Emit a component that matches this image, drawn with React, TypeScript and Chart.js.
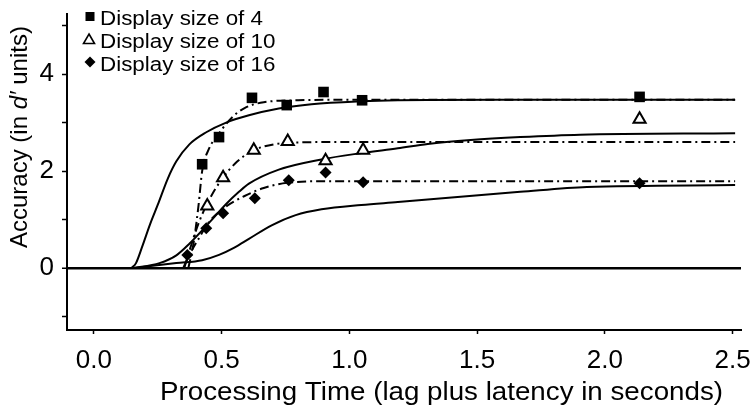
import React, { useEffect, useRef } from 'react';
import { Chart, registerables } from 'chart.js';

Chart.register(...registerables);

// ---------- tick / label data ----------
const X_TICKS = [0, 0.5, 1, 1.5, 2, 2.5];
const Y_TICKS = [-1, 0, 1, 2, 3, 4, 5];
const Y_LABELED = [0, 2, 4];
const LEGEND_LABELS = ['Display size of 4', 'Display size of 10', 'Display size of 16'];
const X_TITLE = 'Processing Time (lag plus latency in seconds)';
const Y_TITLE_PARTS = ['Accuracy (in ', 'd\u2032', ' units)'];

// ---------- observed data points ----------
const SIZE4_T = [0.424, 0.49, 0.619, 0.755, 0.899, 1.05, 2.136];
const SIZE4_ACC = [2.14, 2.7, 3.51, 3.36, 3.63, 3.46, 3.53];
const SIZE10_T = [0.444, 0.506, 0.626, 0.759, 0.907, 1.054, 2.136];
const SIZE10_ACC = [1.28, 1.86, 2.43, 2.61, 2.21, 2.43, 3.07];
const SIZE16_T = [0.366, 0.44, 0.506, 0.63, 0.763, 0.907, 1.054, 2.136];
const SIZE16_ACC = [0.27, 0.82, 1.13, 1.44, 1.81, 1.97, 1.77, 1.75];

// ---------- solid fitted curves ----------
const FIT_A_T = [0.148, 0.165, 0.19, 0.22, 0.25, 0.29, 0.323, 0.374, 0.44, 0.518, 0.607, 0.724, 0.852, 1.047, 1.19, 1.58, 2.51];
const FIT_A_Y = [0, 0.1, 0.45, 0.9, 1.3, 1.85, 2.2, 2.55, 2.8, 3.0, 3.15, 3.29, 3.38, 3.44, 3.46, 3.47, 3.47];
const FIT_B_T = [0.152, 0.257, 0.323, 0.374, 0.451, 0.518, 0.568, 0.607, 0.724, 0.891, 1.047, 1.19, 1.307, 1.475, 1.669, 1.903, 2.51];
const FIT_B_Y = [0, 0.1, 0.26, 0.5, 0.93, 1.32, 1.57, 1.74, 2.03, 2.24, 2.37, 2.47, 2.56, 2.64, 2.7, 2.75, 2.78];
const FIT_C_T = [0.16, 0.323, 0.424, 0.49, 0.55, 0.607, 0.696, 0.79, 0.891, 1.047, 1.19, 1.412, 1.669, 1.93, 2.51];
const FIT_C_Y = [0, 0.1, 0.16, 0.27, 0.42, 0.6, 0.88, 1.09, 1.21, 1.3, 1.36, 1.46, 1.57, 1.67, 1.71];

// ---------- dash-dot fitted curves ----------
const DASH_A_T = [0.37, 0.39, 0.41, 0.424, 0.45, 0.49, 0.54, 0.59, 0.665, 0.8, 1.0, 2.51];
const DASH_A_Y = [0, 0.5, 1.3, 2.0, 2.45, 2.78, 3.1, 3.3, 3.42, 3.46, 3.47, 3.47];
const DASH_B_T = [0.354, 0.381, 0.412, 0.451, 0.498, 0.56, 0.626, 0.704, 0.8, 1.0, 2.51];
const DASH_B_Y = [0, 0.47, 0.95, 1.4, 1.81, 2.19, 2.43, 2.55, 2.59, 2.6, 2.6];
const DASH_C_T = [0.35, 0.374, 0.412, 0.451, 0.51, 0.588, 0.665, 0.763, 0.918, 2.51];
const DASH_C_Y = [0, 0.27, 0.62, 0.95, 1.24, 1.48, 1.65, 1.76, 1.79, 1.79];

const FONT = '"Liberation Sans", Arial, Helvetica, sans-serif';
Chart.defaults.font.family = FONT;

const pts = (xs: number[], ys: number[]) => xs.map((x, i) => ({ x, y: ys[i] }));

const solid = (xs: number[], ys: number[]) => ({
  data: pts(xs, ys),
  borderColor: '#000',
  borderWidth: 2,
  pointRadius: 0,
  fill: false,
  cubicInterpolationMode: 'monotone' as const,
});
const dashDot = (xs: number[], ys: number[]) => ({
  ...solid(xs, ys),
  borderDash: [9, 4, 2, 4],
});

const textPlugin = {
  id: 'refText',
  afterDraw(chart: any) {
    const ctx: CanvasRenderingContext2D = chart.ctx;
    ctx.save();
    ctx.fillStyle = '#000';
    ctx.strokeStyle = '#000';

    // x title
    ctx.font = `26px ${FONT}`;
    ctx.textAlign = 'left';
    ctx.textBaseline = 'alphabetic';
    const xw = ctx.measureText(X_TITLE).width;
    ctx.save();
    ctx.translate(160, 400);
    ctx.scale(563 / xw, 1);
    ctx.fillText(X_TITLE, 0, 0);
    ctx.restore();

    // y title (rotated, italic d')
    ctx.save();
    ctx.translate(27, 248);
    ctx.rotate(-Math.PI / 2);
    let off = 0;
    Y_TITLE_PARTS.forEach((p, i) => {
      ctx.font = i === 1 ? `italic 24px ${FONT}` : `24px ${FONT}`;
      ctx.fillText(p, off, 0);
      off += ctx.measureText(p).width;
    });
    ctx.restore();

    // legend
    const rows = [25, 48, 71];
    const mk = [16.5, 39, 62];
    ctx.font = `20px ${FONT}`;
    const lsx = 163 / ctx.measureText(LEGEND_LABELS[0]).width;
    LEGEND_LABELS.forEach((lab, i) => {
      ctx.save();
      ctx.translate(100, rows[i]);
      ctx.scale(lsx, 1);
      ctx.fillText(lab, 0, 0);
      ctx.restore();
    });
    // markers
    ctx.fillRect(90 - 4.5, mk[0] - 4.5, 9, 9);
    ctx.beginPath();
    ctx.moveTo(89, mk[1] - 5);
    ctx.lineTo(94.5, mk[1] + 4.5);
    ctx.lineTo(83.5, mk[1] + 4.5);
    ctx.closePath();
    ctx.lineWidth = 1.6;
    ctx.stroke();
    ctx.beginPath();
    ctx.moveTo(90, mk[2] - 5.5);
    ctx.lineTo(95.5, mk[2]);
    ctx.lineTo(90, mk[2] + 5.5);
    ctx.lineTo(84.5, mk[2]);
    ctx.closePath();
    ctx.fill();
    ctx.restore();
  },
};

export default function App() {
  const ref = useRef<HTMLCanvasElement>(null);
  useEffect(() => {
    if (!ref.current) return;
    const chart = new Chart(ref.current, {
      type: 'line',
      data: {
        datasets: [
          {
            label: LEGEND_LABELS[0],
            data: pts(SIZE4_T, SIZE4_ACC),
            showLine: false,
            pointStyle: 'rect',
            pointRadius: 7.5,
            pointBackgroundColor: '#000',
            pointBorderColor: '#000',
            pointBorderWidth: 0,
          },
          {
            label: LEGEND_LABELS[1],
            data: pts(SIZE10_T, SIZE10_ACC),
            showLine: false,
            pointStyle: 'triangle',
            pointRadius: 7,
            pointBackgroundColor: '#fff',
            pointBorderColor: '#000',
            pointBorderWidth: 2,
          },
          {
            label: LEGEND_LABELS[2],
            data: pts(SIZE16_T, SIZE16_ACC),
            showLine: false,
            pointStyle: 'rectRot',
            pointRadius: 6,
            pointBackgroundColor: '#000',
            pointBorderColor: '#000',
            pointBorderWidth: 0,
          },
          solid(FIT_A_T, FIT_A_Y),
          solid(FIT_B_T, FIT_B_Y),
          solid(FIT_C_T, FIT_C_Y),
          dashDot(DASH_A_T, DASH_A_Y),
          dashDot(DASH_B_T, DASH_B_Y),
          dashDot(DASH_C_T, DASH_C_Y),
        ] as any,
      },
      options: {
        animation: false,
        responsive: true,
        maintainAspectRatio: false,
        devicePixelRatio: 1,
        events: [],
        layout: { padding: { left: 0, right: 5, top: 14, bottom: 0 } },
        plugins: { legend: { display: false }, tooltip: { enabled: false }, title: { display: false } },
        scales: {
          x: {
            type: 'linear',
            min: -0.105,
            max: 2.533,
            afterBuildTicks: (s: any) => {
              s.ticks = X_TICKS.map((v) => ({ value: v }));
            },
            afterFit: (s: any) => {
              s.height = 86;
              s.paddingLeft = 0;
              s.paddingRight = 0;
            },
            ticks: {
              callback: (v: any) => Number(v).toFixed(1),
              font: { size: 26 },
              color: '#000',
              padding: 11,
              maxRotation: 0,
              autoSkip: false,
            },
            grid: { drawOnChartArea: false, tickLength: 4, color: '#000', tickWidth: 1.5 },
            border: { color: '#000', width: 2 },
          },
          y: {
            type: 'linear',
            min: -1.28,
            max: 5.24,
            afterBuildTicks: (s: any) => {
              s.ticks = Y_TICKS.map((v) => ({ value: v }));
            },
            afterFit: (s: any) => {
              s.width = 67;
              s.paddingTop = 0;
              s.paddingBottom = 0;
            },
            ticks: {
              callback: (v: any) => (Y_LABELED.includes(Number(v)) ? String(v) : ''),
              font: { size: 26 },
              color: '#000',
              padding: 8,
              autoSkip: false,
            },
            grid: {
              drawOnChartArea: true,
              color: (c: any) => (c.tick && c.tick.value === 0 ? '#000' : 'rgba(0,0,0,0)'),
              lineWidth: (c: any) => (c.tick && c.tick.value === 0 ? 2.5 : 1),
              tickColor: '#000',
              tickWidth: 1.5,
              tickLength: 5,
            },
            border: { color: '#000', width: 2 },
          },
        },
      } as any,
      plugins: [textPlugin],
    });
    return () => chart.destroy();
  }, []);

  return (
    <div style={{ position: 'absolute', left: 0, top: 0, width: 750, height: 416, background: '#fff' }}>
      <canvas ref={ref} />
    </div>
  );
}
